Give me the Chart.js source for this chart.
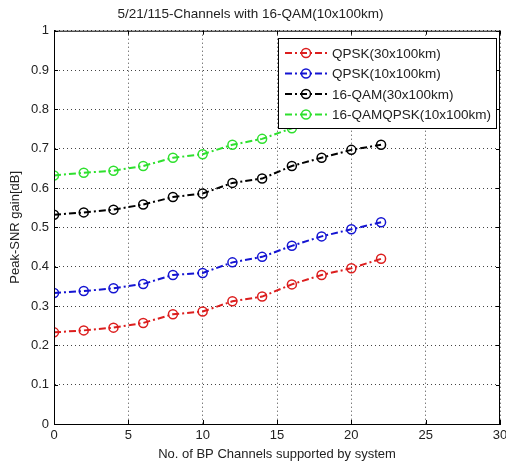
<!DOCTYPE html>
<html>
<head>
<meta charset="utf-8">
<script src="https://cdn.jsdelivr.net/npm/chart.js@4/dist/chart.umd.min.js"></script>
<style>
  html, body { margin: 0; padding: 0; background: #fff; }
  #wrap { width: 506px; height: 467px; position: relative; }
</style>
</head>
<body>
<div id="wrap"><canvas id="chart"></canvas></div>
<script>
const xValues = [0, 2, 4, 6, 8, 10, 12, 14, 16, 18, 20, 22];
const qpsk30 = [0.233, 0.238, 0.245, 0.257, 0.279, 0.286, 0.312, 0.324, 0.355, 0.379, 0.396, 0.42];
const qpsk10 = [0.333, 0.338, 0.345, 0.356, 0.379, 0.384, 0.411, 0.425, 0.453, 0.477, 0.495, 0.513];
const qam30 = [0.532, 0.538, 0.545, 0.558, 0.577, 0.586, 0.613, 0.624, 0.656, 0.677, 0.697, 0.71];
const qamQpsk10 = [0.632, 0.639, 0.644, 0.656, 0.677, 0.686, 0.71, 0.725, 0.752, 0.773, 0.793, 0.81];
const seriesLabels = ['QPSK(30x100km)', 'QPSK(10x100km)', '16-QAM(30x100km)', '16-QAMQPSK(10x100km)'];
const seriesColors = ['#dc1e1e', '#1414d2', '#000000', '#2ee02e'];
const xTicks = [0, 5, 10, 15, 20, 25, 30];
const yTicks = [0, 0.1, 0.2, 0.3, 0.4, 0.5, 0.6, 0.7, 0.8, 0.9, 1];

const DASH = [7, 3, 2, 3];
const FONT = 'Liberation Sans, Arial, sans-serif';

const makeSet = (label, values, color) => ({
  label,
  data: xValues.map((x, i) => ({ x, y: values[i] })),
  borderColor: color,
  borderWidth: 2,
  borderDash: DASH,
  pointStyle: 'circle',
  pointRadius: 4.5,
  pointBorderWidth: 1.5,
  pointBorderColor: color,
  pointBackgroundColor: 'rgba(255,255,255,0)',
  fill: false,
  tension: 0,
});

const allSeries = [qpsk30, qpsk10, qam30, qamQpsk10];

// box around the plot area, like matlab axes
const frame = {
  id: 'frame',
  afterDraw(chart) {
    const { ctx, chartArea: a } = chart;
    ctx.save();
    ctx.strokeStyle = '#000';
    ctx.lineWidth = 1;
    ctx.strokeRect(a.left + 0.5, a.top + 0.5, a.right - a.left - 1, a.bottom - a.top);
    // small inward ticks
    const xs = chart.scales.x, ys = chart.scales.y;
    ctx.beginPath();
    for (const t of xTicks) {
      const px = Math.round(xs.getPixelForValue(t)) + 0.5;
      ctx.moveTo(px, a.bottom); ctx.lineTo(px, a.bottom - 4);
      ctx.moveTo(px, a.top); ctx.lineTo(px, a.top + 4);
    }
    for (const t of yTicks) {
      const py = Math.round(ys.getPixelForValue(t)) + 0.5;
      ctx.moveTo(a.left, py); ctx.lineTo(a.left + 4, py);
      ctx.moveTo(a.right, py); ctx.lineTo(a.right - 4, py);
    }
    ctx.stroke();
    ctx.restore();
  },
};

// legend box drawn inside the axes, over the lines
const boxLegend = {
  id: 'boxLegend',
  afterDatasetsDraw(chart) {
    const { ctx } = chart;
    const left = 278, top = 38, w = 218, h = 90;
    ctx.save();
    ctx.fillStyle = '#fff';
    ctx.fillRect(left, top, w, h);
    ctx.strokeStyle = '#000';
    ctx.lineWidth = 1;
    ctx.strokeRect(left + 0.5, top + 0.5, w, h);
    ctx.font = '13.5px ' + FONT;
    ctx.textBaseline = 'middle';
    seriesLabels.forEach((label, i) => {
      const y = top + 15 + i * 20.5;
      ctx.strokeStyle = seriesColors[i];
      ctx.lineWidth = 2;
      ctx.setLineDash(DASH);
      ctx.beginPath();
      ctx.moveTo(285, y);
      ctx.lineTo(328, y);
      ctx.stroke();
      ctx.setLineDash([]);
      ctx.lineWidth = 1.5;
      ctx.beginPath();
      ctx.arc(306, y, 4.5, 0, Math.PI * 2);
      ctx.stroke();
      ctx.fillStyle = '#222';
      ctx.fillText(label, 332, y + 1);
    });
    ctx.restore();
  },
};

new Chart(document.getElementById('chart'), {
  type: 'line',
  data: {
    datasets: allSeries.map((values, i) => makeSet(seriesLabels[i], values, seriesColors[i])),
  },
  options: {
    responsive: true,
    maintainAspectRatio: false,
    animation: false,
    layout: { padding: { left: 0, right: 5, top: 0, bottom: 0 } },
    plugins: {
      legend: { display: false },
      tooltip: { enabled: false },
      title: {
        display: true,
        text: '5/21/115-Channels with 16-QAM(10x100km)',
        color: '#222',
        font: { family: FONT, size: 13.5, weight: 'normal' },
        padding: { top: 6.5, bottom: 8 },
      },
    },
    scales: {
      x: {
        type: 'linear',
        min: 0,
        max: 30,
        afterFit: (scale) => {
          scale.height = 43;
          scale.paddingLeft = 0;
          scale.paddingRight = 0;
        },
        afterBuildTicks: (scale) => { scale.ticks = xTicks.map((v) => ({ value: v })); },
        ticks: { color: '#222', padding: 4, font: { family: FONT, size: 13 } },
        grid: { color: '#444', lineWidth: 1, drawTicks: false },
        border: { display: true, color: '#000', dash: [1, 3] },
        title: {
          display: true,
          text: 'No. of BP Channels supported by system',
          color: '#222',
          font: { family: FONT, size: 13 },
          padding: { top: 1, bottom: 5 },
        },
      },
      y: {
        type: 'linear',
        min: 0,
        max: 1,
        afterFit: (scale) => {
          scale.width = 54;
          scale.paddingTop = 0;
          scale.paddingBottom = 0;
        },
        afterBuildTicks: (scale) => { scale.ticks = yTicks.map((v) => ({ value: v })); },
        ticks: {
          color: '#222',
          padding: 5,
          font: { family: FONT, size: 13 },
          callback: (v) => String(Math.round(v * 10) / 10),
        },
        grid: { color: '#444', lineWidth: 1, drawTicks: false },
        border: { display: true, color: '#000', dash: [1, 3] },
        title: {
          display: true,
          text: 'Peak-SNR gain[dB]',
          color: '#222',
          font: { family: FONT, size: 13 },
          padding: { top: 8, bottom: 4 },
        },
      },
    },
  },
  plugins: [frame, boxLegend],
});
</script>
</body>
</html>
